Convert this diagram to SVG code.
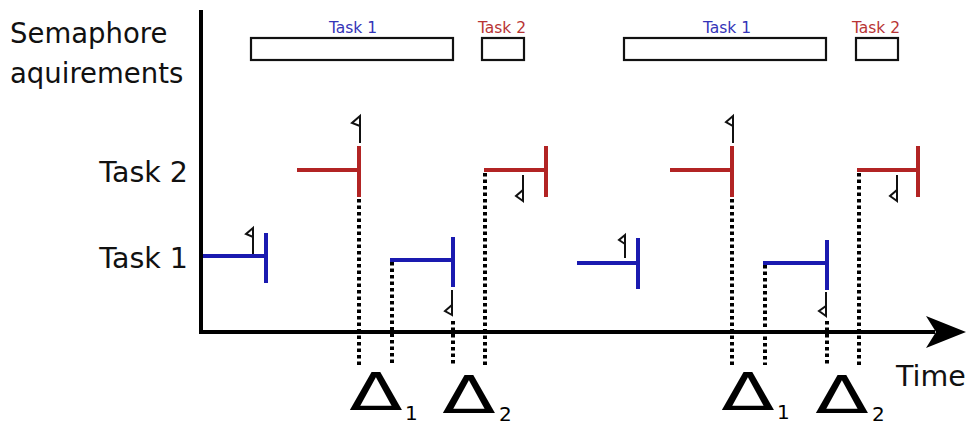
<svg xmlns="http://www.w3.org/2000/svg" width="969" height="425" viewBox="0 0 969 425">
  <style>
    .lbl { font-family: "DejaVu Sans", Verdana, sans-serif; font-size: 28.5px; fill: #111; }
    .head { font-size: 27.5px; }
    .small { font-family: "DejaVu Sans", Verdana, sans-serif; font-size: 15.5px; text-anchor: middle; }
    .t1 { fill: #3434b8; }
    .t2 { fill: #b83434; }
    .sem { fill: #fff; stroke: #111; stroke-width: 2.2; }
    .red { stroke: #b22424; stroke-width: 4; fill: none; }
    .blue { stroke: #1a1ab0; stroke-width: 4; fill: none; }
    .flag { stroke: #111; stroke-width: 2; fill: #fff; stroke-linejoin: miter; }
    .dot { stroke: #000; stroke-width: 4; stroke-dasharray: 3.5 3; fill: none; }
    .axis { stroke: #000; stroke-width: 4; fill: none; }
    .delta { font-family: "DejaVu Sans", Verdana, sans-serif; font-size: 52px; text-anchor: middle; fill: #000; }
    .sub { font-family: "DejaVu Sans", Verdana, sans-serif; font-size: 20px; fill: #000; }
  </style>

  <g id="labels">
    <text class="lbl head" x="10" y="43">Semaphore</text>
    <text class="lbl head" x="10" y="83">aquirements</text>
    <text class="lbl" x="188" y="182" text-anchor="end">Task 2</text>
    <text class="lbl" x="188" y="268" text-anchor="end">Task 1</text>
    <text class="lbl" x="896" y="386">Time</text>
  </g>

  <g id="axes">
    <line class="axis" x1="201" y1="10" x2="201" y2="334"/>
    <line class="axis" x1="199" y1="332" x2="935" y2="332"/>
    <polygon points="936,332 926,316 966,332 926,348" fill="#000"/>
  </g>

  <g id="semaphore-1">
    <rect class="sem" x="251" y="38" width="202" height="22"/>
    <text class="small t1" x="353" y="33">Task 1</text>
  </g>
  <g id="semaphore-2">
    <rect class="sem" x="482" y="38" width="42" height="22"/>
    <text class="small t2" x="502" y="33">Task 2</text>
  </g>
  <g id="semaphore-3">
    <rect class="sem" x="624" y="38" width="202" height="22"/>
    <text class="small t1" x="727" y="33">Task 1</text>
  </g>
  <g id="semaphore-4">
    <rect class="sem" x="856" y="38" width="42" height="22"/>
    <text class="small t2" x="876" y="33">Task 2</text>
  </g>

  <g id="connectors">
    <line class="dot" x1="359" y1="199" x2="359" y2="365"/>
    <line class="dot" x1="392" y1="262" x2="392" y2="365"/>
    <line class="dot" x1="453" y1="321" x2="453" y2="365"/>
    <line class="dot" x1="485" y1="173" x2="485" y2="365"/>
    <line class="dot" x1="732" y1="199" x2="732" y2="365"/>
    <line class="dot" x1="765" y1="265" x2="765" y2="365"/>
    <line class="dot" x1="827" y1="321" x2="827" y2="365"/>
    <line class="dot" x1="859" y1="173" x2="859" y2="365"/>
  </g>

  <g id="task1-job1">
    <path class="blue" d="M203,256 H266 M266,233 V283"/>
    <path class="flag" d="M253,254 V228 M253,228 L246,234 L253,237 Z"/>
  </g>
  <g id="task2-job1">
    <path class="red" d="M297,170 H359 M359,146 V197"/>
    <path class="flag" d="M360,143 V116 M360,116 L352,123 L360,126 Z"/>
  </g>
  <g id="task1-job2">
    <path class="blue" d="M390,260 H453 M453,237 V287"/>
    <path class="flag" d="M452,290 V315 M452,315 L445,311 L452,305 Z"/>
  </g>
  <g id="task2-job2">
    <path class="red" d="M484,170 H546 M546,146 V197"/>
    <path class="flag" d="M523,175 V201 M523,201 L516,196 L523,190 Z"/>
  </g>

  <g id="task1-job3">
    <path class="blue" d="M577,263 H638 M638,238 V289"/>
    <path class="flag" d="M625,258 V235 M625,235 L619,240 L625,244 Z"/>
  </g>
  <g id="task2-job3">
    <path class="red" d="M670,170 H732 M732,146 V197"/>
    <path class="flag" d="M733,143 V116 M733,116 L726,122 L733,126 Z"/>
  </g>
  <g id="task1-job4">
    <path class="blue" d="M763,263 H827 M827,240 V290"/>
    <path class="flag" d="M826,292 V316 M826,316 L819,311 L826,306 Z"/>
  </g>
  <g id="task2-job4">
    <path class="red" d="M857,170 H918 M918,146 V197"/>
    <path class="flag" d="M897,175 V201 M897,201 L890,196 L897,190 Z"/>
  </g>

  <g id="delta-1a">
    <text class="delta" transform="translate(376,410) scale(1.5,1)">Δ</text>
    <text class="sub" x="405" y="420">1</text>
  </g>
  <g id="delta-2a">
    <text class="delta" transform="translate(469,413) scale(1.5,1)">Δ</text>
    <text class="sub" x="499" y="421">2</text>
  </g>
  <g id="delta-1b">
    <text class="delta" transform="translate(748,410) scale(1.5,1)">Δ</text>
    <text class="sub" x="777" y="419">1</text>
  </g>
  <g id="delta-2b">
    <text class="delta" transform="translate(842,413) scale(1.5,1)">Δ</text>
    <text class="sub" x="872" y="421">2</text>
  </g>
</svg>
